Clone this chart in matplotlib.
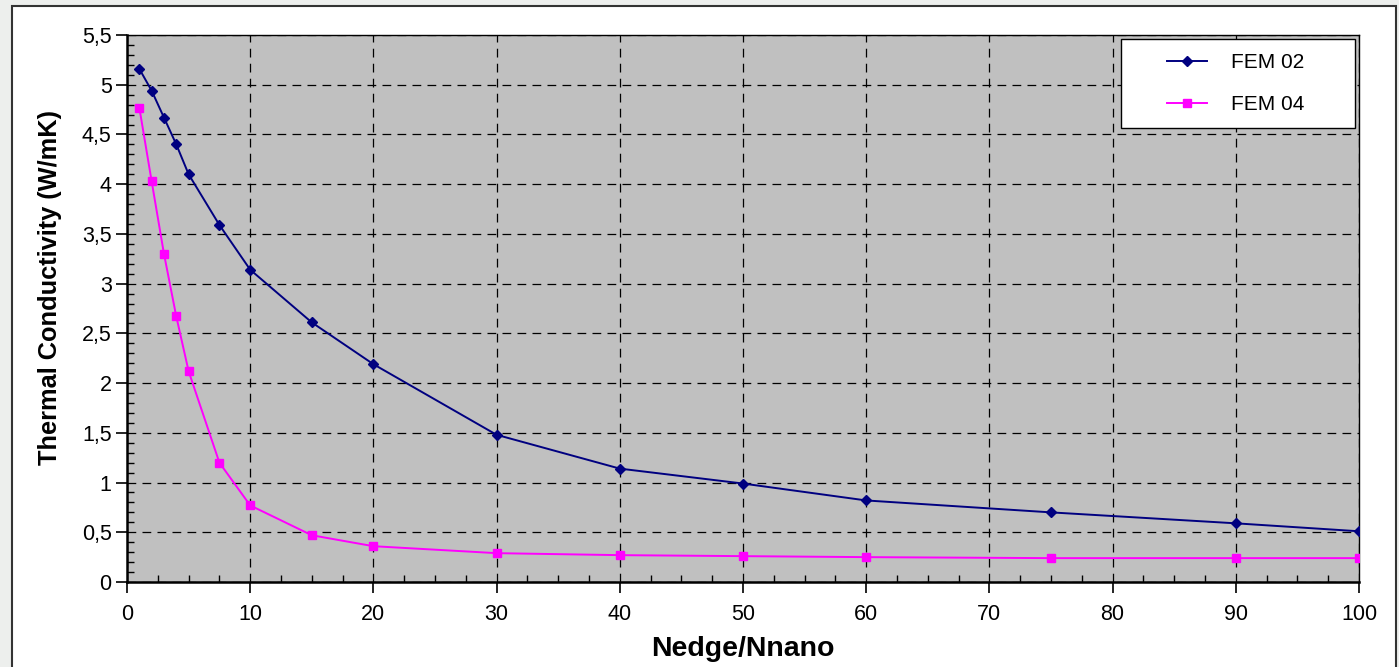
import matplotlib
matplotlib.use("Agg")
import matplotlib.pyplot as plt
from matplotlib.patches import Rectangle
from matplotlib.ticker import MultipleLocator, FuncFormatter

# Nedge/Nnano ratios
ratio = [1, 2, 3, 4, 5, 7.5, 10, 15, 20, 30, 40, 50, 60, 75, 90, 100]

# Thermal conductivity (W/mK) per model
fem02 = [5.16, 4.94, 4.67, 4.40, 4.10, 3.59, 3.14, 2.61, 2.19, 1.48,
         1.14, 0.99, 0.82, 0.70, 0.59, 0.51]
fem04 = [4.77, 4.03, 3.30, 2.67, 2.12, 1.20, 0.77, 0.47, 0.36, 0.29,
         0.27, 0.26, 0.25, 0.24, 0.24, 0.24]

series_labels = ["FEM 02", "FEM 04"]
x_label = "Nedge/Nnano"
y_label = "Thermal Conductivity (W/mK)"

plt.rcParams['font.family'] = ['Liberation Sans', 'DejaVu Sans']

W, H = 1399, 667
fig = plt.figure(figsize=(W / 100, H / 100), dpi=100)
fig.patch.set_facecolor('#EDEFED')

# white chart frame behind the axes
frame = Rectangle((12 / W, -0.05), (1396 - 12) / W, 1.05 - 6 / H,
                  transform=fig.transFigure, facecolor='white',
                  edgecolor='#333333', linewidth=1.5, zorder=-10)
fig.add_artist(frame)

ax = fig.add_axes([127 / W, 1 - 582 / H, (1359 - 127) / W, (582 - 35) / H])
ax.set_zorder(5)
ax.set_facecolor('#C0C0C0')

ax.plot(ratio, fem02, color='#000080', linewidth=1.4, marker='D',
        markersize=5.5, markerfacecolor='#000080', markeredgecolor='#000080',
        label=series_labels[0], zorder=4)
ax.plot(ratio, fem04, color='#FF00FF', linewidth=1.4, marker='s',
        markersize=6, markerfacecolor='#FF00FF', markeredgecolor='#FF00FF',
        label=series_labels[1], zorder=4)

ax.set_xlim(0, 100)
ax.set_ylim(0, 5.5)
ax.xaxis.set_major_locator(MultipleLocator(10))
ax.xaxis.set_minor_locator(MultipleLocator(2.5))
ax.yaxis.set_major_locator(MultipleLocator(0.5))
ax.yaxis.set_minor_locator(MultipleLocator(0.1))
ax.yaxis.set_major_formatter(FuncFormatter(lambda v, p: f"{v:g}".replace('.', ',')))

ax.grid(which='major', color='black', linestyle=(0, (7, 5)), linewidth=0.9, zorder=1)
ax.set_axisbelow(True)

ax.tick_params(which='major', direction='out', length=8, width=1.2,
               labelsize=15.5, colors='black')
ax.tick_params(which='minor', direction='in', length=5, width=1.0, colors='black')
ax.tick_params(axis='x', which='major', pad=8)
ax.tick_params(axis='y', which='major', pad=3)

for side in ['left', 'bottom']:
    ax.spines[side].set_linewidth(1.8)
for side in ['top', 'right']:
    ax.spines[side].set_linewidth(1.0)
for s in ax.spines.values():
    s.set_color('black')

ax.set_xlabel(x_label, fontsize=20.5, fontweight='bold', labelpad=8)
ax.set_ylabel(y_label, fontsize=18.3, fontweight='bold', labelpad=14)
ax.yaxis.label.set_y(0.539)

# legend box
ax.add_patch(Rectangle((0.8068, 0.830), 0.19, 0.1627, transform=ax.transAxes,
                       facecolor='white', edgecolor='black', linewidth=1.0,
                       zorder=6))
leg = ax.legend(loc='upper left', bbox_to_anchor=(0.8442, 0.967),
                borderaxespad=0, borderpad=0, fontsize=15, frameon=False,
                labelspacing=1.1, handlelength=1.92, handletextpad=1.15)
leg.set_zorder(7)

fig.savefig('out.png', dpi=100, facecolor=fig.get_facecolor())
